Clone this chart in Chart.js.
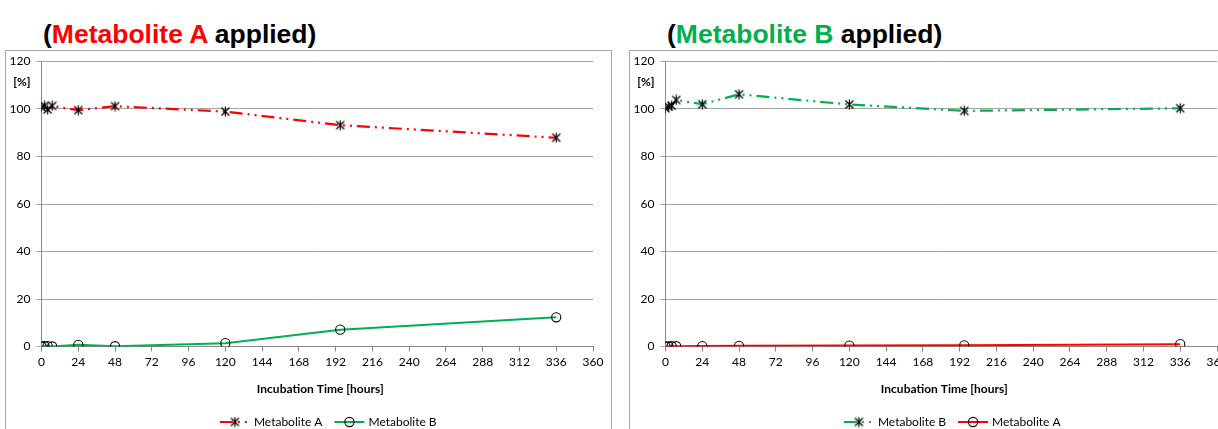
<!DOCTYPE html>
<html>
<head>
<meta charset="utf-8">
<script src="https://cdn.jsdelivr.net/npm/chart.js@4/dist/chart.umd.min.js"></script>
<style>
  html, body { margin: 0; padding: 0; background: #fff; overflow: hidden; width: 1218px; height: 429px; }
  .title { position: absolute; top: 19px; font: bold 26.5px "Liberation Sans", Arial, sans-serif; line-height: 30px; white-space: nowrap; color: #000; }
  .panel { position: absolute; top: 50px; width: 607px; height: 400px; border: 1px solid #a6a6a6; box-sizing: border-box; background: #fff; }
  .panel canvas { position: absolute; left: 0; top: 0; }
</style>
</head>
<body>
<div class="title" style="left:43px">(<span style="color:#ff0000">Metabolite A</span> applied)</div>
<div class="title" style="left:667px">(<span style="color:#00b050">Metabolite B</span> applied)</div>
<div class="panel" style="left:5px"><canvas id="chartA" width="605" height="398"></canvas></div>
<div class="panel" style="left:629px"><canvas id="chartB" width="605" height="398"></canvas></div>
<script>
// Sampling times (hours) and tick settings
const hours = [0, 2, 4, 7, 24, 48, 120, 195, 336];
const xTicks = { min: 0, max: 360, step: 24 };
const yTicks = { min: 0, max: 120, step: 20 };

// Study with Metabolite A applied (% of applied)
const aApplied_metA = [100.8, 101.3, 99.8, 101.3, 99.5, 101.2, 98.9, 93.2, 87.9];
const aApplied_metB = [0.0, 0.1, 0.2, 0.0, 0.7, 0.1, 1.4, 7.1, 12.3];

// Study with Metabolite B applied (% of applied)
const bApplied_metB = [100.3, 101.0, 101.4, 103.8, 102.0, 106.2, 101.9, 99.2, 100.3];
const bApplied_metA = [0.0, 0.0, 0.1, 0.1, 0.2, 0.3, 0.4, 0.5, 1.0];

const RED = '#ff0000';
const GREEN = '#00b050';
const DASH = [13, 5, 2, 5, 2, 5];
const FONT = 'Lato, "Open Sans", sans-serif';

// Asterisk marker: an "x" crossed by a vertical bar
const asterisk = (() => {
  const c = document.createElement('canvas');
  c.width = 11; c.height = 11;
  const g = c.getContext('2d');
  g.strokeStyle = '#000';
  g.lineWidth = 1.2;
  g.beginPath();
  g.moveTo(1.5, 1.5); g.lineTo(9.5, 9.5);
  g.moveTo(9.5, 1.5); g.lineTo(1.5, 9.5);
  g.moveTo(5.5, 0.5); g.lineTo(5.5, 10.5);
  g.stroke();
  return c;
})();

function toPoints(values) {
  return hours.map((h, i) => ({ x: h, y: values[i] }));
}

function parentSeries(label, values, color) {
  return {
    label, data: toPoints(values), borderColor: color, backgroundColor: color,
    borderWidth: 2.2, borderDash: DASH, tension: 0,
    pointStyle: asterisk, pointRadius: 5, pointBorderColor: '#000',
    pointBackgroundColor: 'transparent', pointBorderWidth: 1.1
  };
}

function metaboliteSeries(label, values, color) {
  return {
    label, data: toPoints(values), borderColor: color, backgroundColor: color,
    borderWidth: 2, borderDash: [], tension: 0,
    pointStyle: 'circle', pointRadius: 4.6, pointBorderColor: '#000',
    pointBackgroundColor: 'transparent', pointBorderWidth: 1.1
  };
}

// Axis caption, unit label and an Excel-style legend with line samples
const decorations = {
  id: 'decorations',
  afterDraw(chart) {
    const { ctx, chartArea: a } = chart;
    ctx.save();
    ctx.fillStyle = '#000';
    ctx.font = 'bold 12px ' + FONT;
    ctx.textAlign = 'right';
    ctx.textBaseline = 'middle';
    ctx.fillText('[%]', a.left - 11, a.top + 20.5);

    ctx.textAlign = 'center';
    ctx.fillText('Incubation Time [hours]', (a.left + a.right) / 2 + 3, a.bottom + 42.5);

    // legend
    ctx.font = '12px ' + FONT;
    const y = a.bottom + 75.5;
    const sample = 30, gap = 4, spacing = 12;
    const items = chart.data.datasets;
    let total = 0;
    items.forEach((d, i) => {
      total += sample + gap + ctx.measureText(d.label).width + (i ? spacing : 0);
    });
    let x = (a.left + a.right) / 2 + 11 - total / 2;
    items.forEach((d, i) => {
      if (i) x += spacing;
      ctx.save();
      ctx.strokeStyle = d.borderColor;
      ctx.lineWidth = d.borderWidth;
      ctx.setLineDash(d.borderDash);
      ctx.beginPath();
      ctx.moveTo(x, y);
      ctx.lineTo(x + sample, y);
      ctx.stroke();
      ctx.setLineDash([]);
      ctx.strokeStyle = d.pointBorderColor;
      ctx.fillStyle = 'rgba(0,0,0,0)';
      ctx.lineWidth = d.pointBorderWidth;
      Chart.helpers.drawPoint(ctx, {
        pointStyle: d.pointStyle, radius: d.pointRadius, borderWidth: d.pointBorderWidth
      }, x + sample / 2, y);
      ctx.restore();
      ctx.fillStyle = '#000';
      ctx.textAlign = 'left';
      ctx.fillText(d.label, x + sample + gap, y + 0.5);
      x += sample + gap + ctx.measureText(d.label).width;
    });
    ctx.restore();
  }
};

function buildChart(id, datasets) {
  return new Chart(document.getElementById(id), {
    type: 'line',
    data: { datasets },
    options: {
      responsive: false,
      animation: false,
      devicePixelRatio: 1,
      layout: { padding: { top: 10.5, right: 18, left: 0, bottom: 0 } },
      plugins: { legend: { display: false }, tooltip: { enabled: false } },
      scales: {
        x: {
          type: 'linear', min: xTicks.min, max: xTicks.max,
          afterFit(s) { s.height = 102.5; s.paddingLeft = 0; s.paddingRight = 0; },
          afterBuildTicks(s) {
            s.ticks = [];
            for (let v = xTicks.min; v <= xTicks.max; v += xTicks.step) s.ticks.push({ value: v });
          },
          ticks: { color: '#000', font: { family: FONT, size: 12 }, padding: 3, maxRotation: 0, autoSkip: false },
          grid: { drawOnChartArea: false, drawTicks: true, tickLength: 5, color: '#868686' },
          border: { color: '#868686', width: 1 }
        },
        y: {
          min: yTicks.min, max: yTicks.max,
          afterFit(s) { s.width = 35.5; s.paddingTop = 0; s.paddingBottom = 0; },
          ticks: { stepSize: yTicks.step, color: '#000', font: { family: FONT, size: 12 }, padding: 6 },
          grid: { color: '#a3a3a3', lineWidth: 1, tickLength: 5 },
          border: { color: '#868686', width: 1 }
        }
      }
    },
    plugins: [decorations]
  });
}

buildChart('chartA', [
  parentSeries('Metabolite A', aApplied_metA, RED),
  metaboliteSeries('Metabolite B', aApplied_metB, GREEN)
]);
buildChart('chartB', [
  parentSeries('Metabolite B', bApplied_metB, GREEN),
  metaboliteSeries('Metabolite A', bApplied_metA, RED)
]);
</script>
</body>
</html>
